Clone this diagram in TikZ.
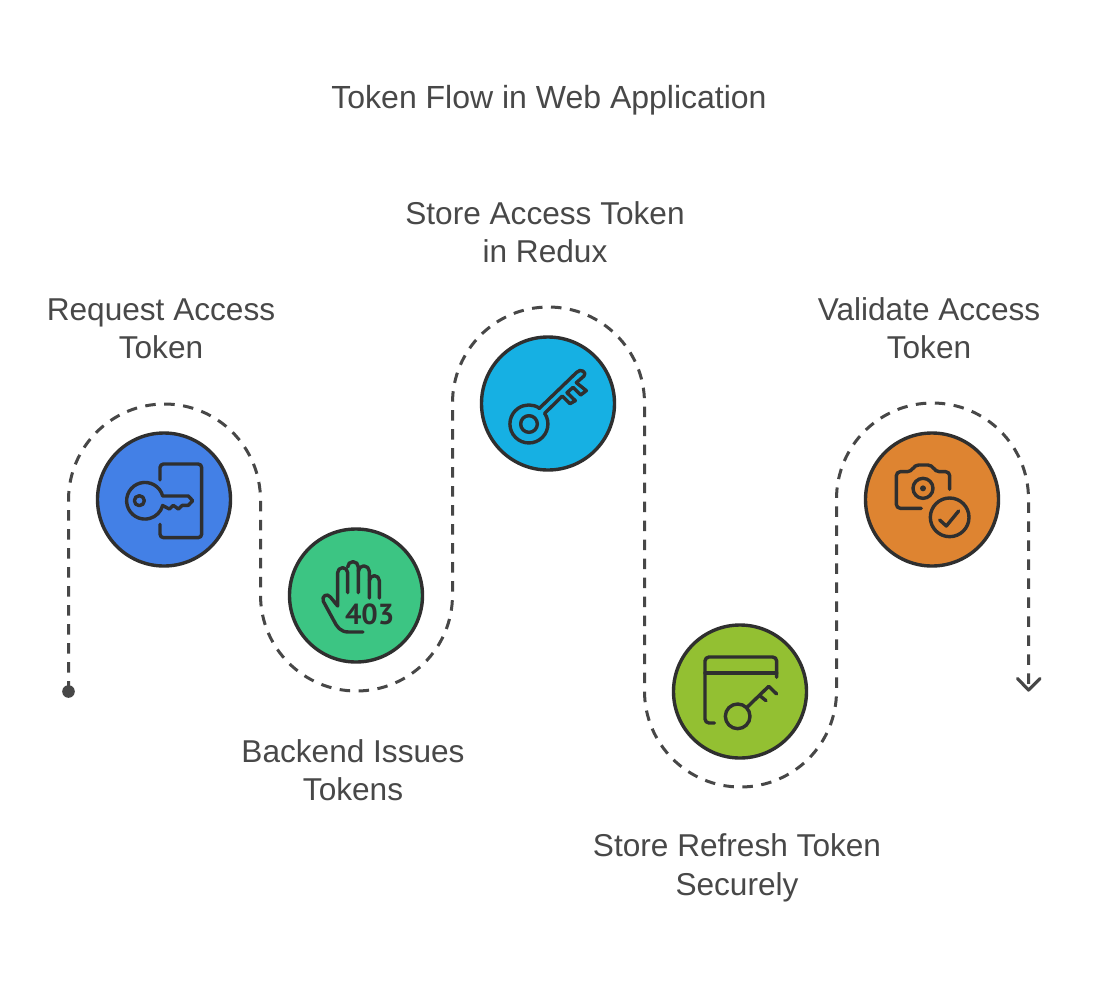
\documentclass[tikz,border=0pt]{standalone}
\usepackage{fontspec}
\setmainfont{Liberation Sans}
\newfontfamily\digitfont{PT Sans}
\definecolor{ink}{HTML}{2F2F2F}
\definecolor{txt}{HTML}{484848}
\definecolor{pathc}{HTML}{474747}
\definecolor{cblue}{HTML}{4380E6}
\definecolor{cgreen}{HTML}{3CC583}
\definecolor{ccyan}{HTML}{16B0E3}
\definecolor{clime}{HTML}{93C032}
\definecolor{corange}{HTML}{DE8431}
\tikzset{
  disc/.style={circle,draw=ink,line width=3.4pt,minimum size=133pt,inner sep=0pt},
  label/.style={text=txt,align=center,font=\fontsize{31.6}{38.5}\selectfont,inner sep=0pt},
  headline/.style={text=txt,align=center,font=\fontsize{32}{38.5}\selectfont,inner sep=0pt},
  route/.style={draw=pathc,line width=3pt,dash pattern=on 10.5pt off 8.5pt},
  icon/.style={draw=ink,line width=3.4pt,line cap=round,line join=round},
  icongrid/.style={x=0.33333pt,y=-0.33333pt}
}
\begin{document}
\begin{tikzpicture}[x=1pt,y=-1pt]
\useasboundingbox (0,0) rectangle (1098,983);
\fill[white] (0,0) rectangle (1098,983);
% labels
\node[headline] (title) at (549,100) {Token Flow in Web Application};
\node[label] (l1) at (161,329) {Request Access\\Token};
\node[label] (l2) at (353,770) {Backend Issues\\Tokens};
\node[label] (l3) at (545,232) {Store Access Token\\in Redux};
\node[label] (l4) at (737,868) {Store Refresh Token\\Securely};
\node[label] (l5) at (929,328) {Validate Access\\Token};
% route
\coordinate (start) at (68.5,691.5);
\coordinate (a1) at (68.5,500);
\coordinate (b0) at (260.5,500);
\coordinate (b1) at (260.5,595);
\coordinate (c0) at (452.5,595);
\coordinate (c1) at (452.5,403);
\coordinate (d0) at (644.5,403);
\coordinate (d1) at (644.5,691);
\coordinate (e0) at (836.5,691);
\coordinate (e1) at (836.5,499);
\coordinate (f0) at (1028.5,499);
\coordinate (tip) at (1028.5,690);
\draw[route] (start) -- (a1) arc[start angle=180,end angle=360,radius=96]
  -- (b1) arc[start angle=180,end angle=0,radius=96]
  -- (c1) arc[start angle=180,end angle=360,radius=96]
  -- (d1) arc[start angle=180,end angle=0,radius=96]
  -- (e1) arc[start angle=180,end angle=360,radius=96]
  -- (tip);
\fill[pathc] (start) circle[radius=6.3];
\draw[pathc,line width=3.2pt,line cap=round,line join=round] (1017.5,678.5) -- (tip) -- (1040,678.5);
% discs
\node[disc,fill=cblue] (n1) at (164,499.5) {};
\node[disc,fill=cgreen] (n2) at (356,595.5) {};
\node[disc,fill=ccyan] (n3) at (548,403.5) {};
\node[disc,fill=clime] (n4) at (740,691.5) {};
\node[disc,fill=corange] (n5) at (932,499.5) {};
% icon 1
\begin{scope}[shift={(90,425)},icongrid]
\draw[icon,rounded corners=3.5pt] (210,165) -- (210,117) -- (335,117) -- (335,338) -- (210,338) -- (210,298);
\draw[icon] (218,213) arc[start angle=-15,end angle=-345,radius=55]
  -- (238,252) -- (250,241) -- (265,252) -- (277,241) -- (295,241) -- (308,227) -- (295,213) -- cycle;
\draw[icon] (148,227) circle[radius=15];
\end{scope}
% icon 2
\begin{scope}[shift={(282,522)},icongrid]
\draw[icon] (243,330) -- (200,330) .. controls (175,330) and (165,315) .. (155,295)
  -- (124,238) .. controls (118,222) and (135,212) .. (145,225) -- (167,252) -- (167,152)
  arc[start angle=180,end angle=360,radius=15] -- (197,212);
\draw[icon] (197,135) arc[start angle=180,end angle=360,radius=16] -- (229,212);
\draw[icon] (229,148) arc[start angle=180,end angle=360,radius=16.5] -- (262,228);
\draw[icon] (262,176) arc[start angle=180,end angle=360,radius=15] -- (292,228);
\node[text=ink,inner sep=0pt,font=\digitfont\bfseries\fontsize{29}{29}\selectfont] (code) at (263,278) {403};
\end{scope}
% icon 3
\begin{scope}[shift={(474,330)},icongrid]
\draw[icon] (165,282) circle[radius=25];
\draw[icon] (195,236) -- (308,127) .. controls (320,113) and (340,128) .. (330,138)
  -- (307,158) -- (337,182) -- (320,195) -- (297,172) -- (279,188) -- (304,212) -- (288,221) -- (265,198) -- (212,250)
  arc[start angle=-34,end angle=303,radius=57];
\end{scope}
% icon 4
\begin{scope}[shift={(666,618)},icongrid]
\draw[icon,rounded corners=4pt] (145,315) -- (117,315) -- (117,117) -- (332,117) -- (332,178);
\draw[icon] (117,165) -- (332,165);
\draw[icon] (215,295) circle[radius=37];
\draw[icon] (243,268) -- (308,205) -- (332,228);
\draw[icon] (280,232) -- (300,248);
\end{scope}
% icon 5
\begin{scope}[shift={(858,425)},icongrid]
\draw[icon,rounded corners=4pt] (190,250) -- (115,250) -- (115,140) -- (160,140) -- (170,120) -- (222,120) -- (232,140) -- (275,140) -- (275,193);
\draw[icon] (195,190) circle[radius=30];
\fill[ink] (195,190) circle[radius=9];
\draw[icon] (275,277) circle[radius=58];
\draw[icon] (245,285) -- (265,303) -- (302,258);
\end{scope}
\end{tikzpicture}
\end{document}
